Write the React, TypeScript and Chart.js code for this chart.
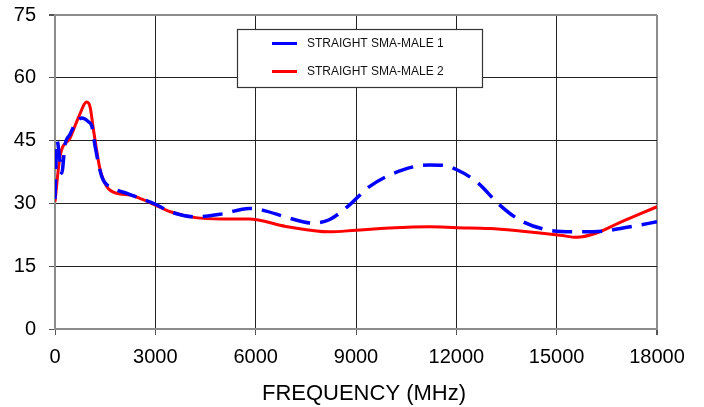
import React, { useEffect, useRef } from "react";
import { Chart, registerables } from "chart.js";

Chart.register(...registerables);

const seriesLabels = ["STRAIGHT SMA-MALE 1", "STRAIGHT SMA-MALE 2"];
const yTicks = [0, 15, 30, 45, 60, 75];
const xTicks = [0, 3000, 6000, 9000, 12000, 15000, 18000];
const xTitle = "FREQUENCY (MHz)";

const freq1 = [0, 60, 150, 200, 300, 450, 600, 800, 1000, 1100, 1200, 1400, 1750, 2150, 2550, 3000, 3450, 4200, 5000, 5800, 6200, 7000, 7700, 8200, 8800, 9400, 10400, 11200, 11600, 12000, 12600, 13300, 13900, 14700, 15600, 16400, 17250, 18000];
const values1 = [31, 45, 40, 37.2, 44, 46.5, 49, 50.4, 49.5, 48.5, 43.6, 36.4, 33.6, 32.4, 31.2, 29.8, 28, 26.8, 27.5, 28.8, 28.4, 26.5, 25.3, 26.1, 29.6, 34, 38, 39.2, 39.1, 38.1, 35.2, 29.6, 26, 23.7, 23.2, 23.4, 24.5, 25.6];

const freq2 = [0, 150, 450, 700, 950, 1050, 1150, 1350, 1550, 1850, 2250, 2600, 3000, 3450, 4200, 5000, 5800, 6900, 8200, 9000, 10000, 11200, 12000, 13000, 13900, 15100, 15600, 16150, 16850, 18000];
const values2 = [30.4, 41.2, 45.6, 50.5, 54.2, 53, 47.6, 38, 34, 32.4, 32, 31, 29.6, 28, 26.6, 26.3, 26.3, 24.5, 23.2, 23.6, 24.1, 24.4, 24.2, 24, 23.4, 22.4, 21.9, 22.8, 25.3, 29.2];

const colors = ["#0000ff", "#ff0000"];
const FONT = "'Liberation Sans', Arial, sans-serif";

const legendBox = {
  id: "legendBox",
  afterDatasetsDraw(chart: any) {
    const ctx = chart.ctx;
    ctx.save();
    const x0 = 237, y0 = 29, w = 245, h = 58;
    ctx.fillStyle = "#ffffff";
    ctx.fillRect(x0, y0, w, h);
    ctx.strokeStyle = "#333333";
    ctx.lineWidth = 1.2;
    ctx.strokeRect(x0 + 0.5, y0 + 0.5, w, h);
    const rows = [43.5, 71.5];
    chart.data.datasets.forEach((ds: any, i: number) => {
      ctx.beginPath();
      ctx.strokeStyle = ds.borderColor;
      ctx.lineWidth = 3;
      ctx.moveTo(272, rows[i]);
      ctx.lineTo(297, rows[i]);
      ctx.stroke();
      ctx.fillStyle = "#111111";
      ctx.font = `12px ${FONT}`;
      ctx.textBaseline = "middle";
      ctx.textAlign = "left";
      ctx.fillText(ds.label, 307, rows[i] + 0.5);
    });
    // axis title
    ctx.fillStyle = "#000";
    ctx.font = `22px ${FONT}`;
    ctx.textAlign = "center";
    ctx.textBaseline = "middle";
    ctx.fillText(xTitle, 364, 394);
    ctx.restore();
  },
};

export default function App() {
  const ref = useRef<HTMLCanvasElement | null>(null);
  useEffect(() => {
    document.body.style.margin = "0";
    const canvas = ref.current!;
    const chart = new Chart(canvas, {
      type: "line",
      data: {
        datasets: [
          {
            label: seriesLabels[0],
            data: freq1.map((f, i) => ({ x: f, y: values1[i] })),
            borderColor: colors[0],
            backgroundColor: colors[0],
            borderWidth: 3.5,
            borderDash: [20, 10],
            pointRadius: 0,
            cubicInterpolationMode: "monotone",
            fill: false,
          },
          {
            label: seriesLabels[1],
            data: freq2.map((f, i) => ({ x: f, y: values2[i] })),
            borderColor: colors[1],
            backgroundColor: colors[1],
            borderWidth: 3,
            pointRadius: 0,
            cubicInterpolationMode: "monotone",
            fill: false,
          },
        ],
      },
      options: {
        animation: false,
        responsive: false,
        devicePixelRatio: 1,
        layout: { autoPadding: false, padding: { top: 15, right: 47, left: 0, bottom: 0 } },
        plugins: {
          legend: { display: false },
          tooltip: { enabled: false },
        },
        scales: {
          x: {
            type: "linear",
            min: 0,
            max: 18000,
            afterBuildTicks: (axis: any) => {
              axis.ticks = xTicks.map((v) => ({ value: v }));
            },
            afterFit: (axis: any) => {
              axis.height = 78;
              axis.paddingLeft = 0;
              axis.paddingRight = 0;
            },
            ticks: {
              color: "#000",
              font: { family: FONT, size: 20 },
              padding: 10,
              maxRotation: 0,
              autoSkip: false,
              callback: (v: any) => String(v),
            },
            grid: {
              color: (c: any) => (c.tick && c.tick.value === 18000 ? "#8c8c8c" : "#222"),
              lineWidth: (c: any) => (c.tick && c.tick.value === 18000 ? 2 : 1),
              tickColor: "#555",
              tickLength: 6,
            },
            border: { color: "#8c8c8c", width: 2 },
          },
          y: {
            type: "linear",
            min: 0,
            max: 75,
            afterBuildTicks: (axis: any) => {
              axis.ticks = yTicks.map((v) => ({ value: v }));
            },
            afterFit: (axis: any) => {
              axis.width = 55;
              axis.paddingTop = 0;
              axis.paddingBottom = 0;
            },
            ticks: {
              color: "#000",
              font: { family: FONT, size: 20 },
              padding: 13,
              autoSkip: false,
            },
            grid: {
              color: (c: any) => (c.tick && c.tick.value === 75 ? "#8c8c8c" : "#222"),
              lineWidth: (c: any) => (c.tick && c.tick.value === 75 ? 2 : 1),
              tickColor: "#555",
              tickLength: 6,
            },
            border: { color: "#8c8c8c", width: 2 },
          },
        },
      },
      plugins: [legendBox],
    });
    return () => chart.destroy();
  }, []);
  return (
    <div style={{ position: "absolute", left: 0, top: 0, width: 704, height: 407, background: "#fff" }}>
      <canvas ref={ref} width={704} height={407} style={{ width: 704, height: 407, display: "block" }} />
    </div>
  );
}
